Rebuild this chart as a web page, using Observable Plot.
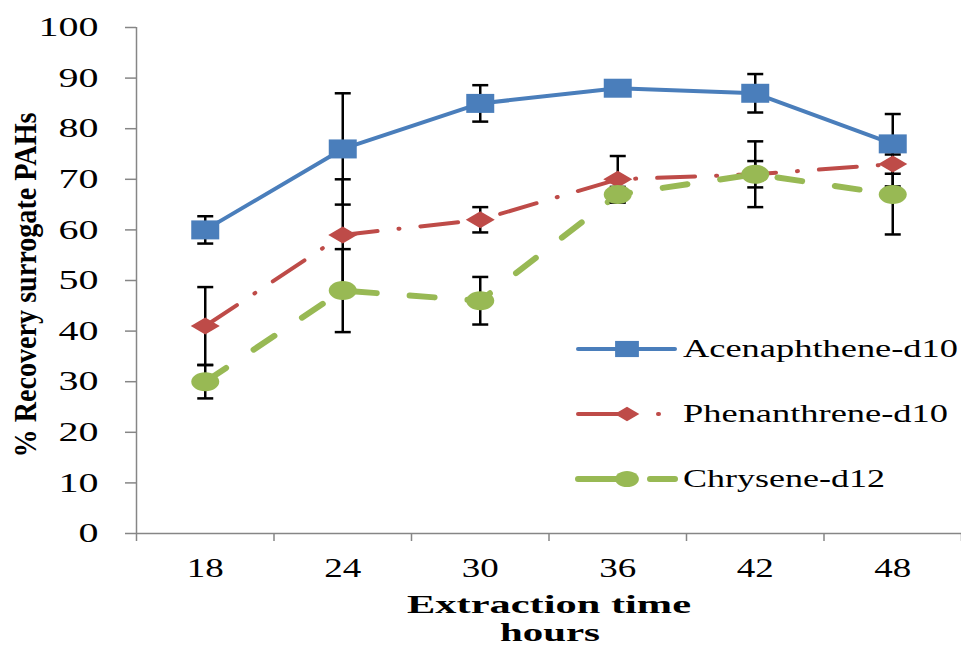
<!DOCTYPE html>
<html><head><meta charset="utf-8">
<script src="https://cdn.jsdelivr.net/npm/d3@7"></script>
<script src="https://cdn.jsdelivr.net/npm/@observablehq/plot@0.6"></script>
<style>
body{margin:0;background:#fff}
</style>
</head><body><div id="chart"></div>
<script>
// ---- data ----
const hours = [18, 24, 30, 36, 42, 48];
const acenaphthene    = [60, 76, 85, 88, 87, 77];
const acenaphtheneErr = [2.7, 11, 3.6, 1, 3.8, 5.9];
const phenanthrene    = [41, 59, 62, 70, 71, 73];
const phenanthreneErr = [7.7, 11, 2.5, 4.6, 6.5, 4.4];
const chrysene        = [30, 48, 46, 67, 71, 67];
const chryseneErr     = [3.3, 8.2, 4.7, 1.5, 2.6, 7.9];
const seriesNames = ["Acenaphthene-d10", "Phenanthrene-d10", "Chrysene-d12"];
const yTicks = [0, 10, 20, 30, 40, 50, 60, 70, 80, 90, 100];
const xBoundaries = [15, 21, 27, 33, 39, 45, 51];
const xTitle = "Extraction time";
const xTitle2 = "hours";
const yTitle = "% Recovery surrogate PAHs";

// ---- styling ----
const seriesValues = [acenaphthene, phenanthrene, chrysene];
const seriesErrors = [acenaphtheneErr, phenanthreneErr, chryseneErr];
const colors = ["#4a7ebb", "#be4b48", "#98b954"];
const dashes = [null, "38,21,1,21", "25,33"];
const widths = [4, 4, 6];
const gray = "#868686";

const sqSym = {draw(c){c.moveTo(-14,-9.5);c.lineTo(14,-9.5);c.lineTo(14,9.5);c.lineTo(-14,9.5);c.closePath();}};
const diaSym = {draw(c){c.moveTo(-14.5,0);c.lineTo(0,-8.5);c.lineTo(14.5,0);c.lineTo(0,8.5);c.closePath();}};
const ellSym = {draw(c){const a=14,b=9.5,k=0.5523;c.moveTo(a,0);c.bezierCurveTo(a,b*k,a*k,b,0,b);c.bezierCurveTo(-a*k,b,-a,b*k,-a,0);c.bezierCurveTo(-a,-b*k,-a*k,-b,0,-b);c.bezierCurveTo(a*k,-b,a,-b*k,a,0);c.closePath();}};
const capSym = {draw(c){c.moveTo(-8,0);c.lineTo(8,0);}};
const syms = [sqSym, diaSym, ellSym];

const rows = seriesNames.flatMap((s, i) => hours.map((h, j) => ({
  series: s, i, hours: h, value: seriesValues[i][j], err: seriesErrors[i][j]
})));

const marks = [
  Plot.ruleY([0], {stroke: gray, strokeWidth: 1.5}),
  Plot.ruleX([15], {stroke: gray, strokeWidth: 1.5}),
  Plot.axisY(yTicks, {tickSize: 11, tickPadding: 27, stroke: gray, strokeWidth: 1.5, fill: "black",
    fontSize: 27, fontFamily: "Liberation Serif", label: null}),
  Plot.axisX(xBoundaries, {tickSize: 8, stroke: gray, strokeWidth: 1.5, tickFormat: () => "", label: null}),
  Plot.axisX(hours, {tickSize: 0, tickPadding: 24, fill: "black", fontSize: 27,
    fontFamily: "Liberation Serif", label: null, tickFormat: d => String(d)})
];
seriesNames.forEach((s, i) => {
  marks.push(Plot.line(rows.filter(d => d.i === i), {
    x: "hours", y: "value", stroke: colors[i], strokeWidth: widths[i],
    strokeDasharray: dashes[i], strokeLinecap: "round", strokeLinejoin: "round"
  }));
});
const errRows = rows.filter(d => d.err > 0);
marks.push(
  Plot.ruleX(errRows, {x: "hours", y1: d => d.value - d.err, y2: d => d.value + d.err, stroke: "black", strokeWidth: 2.5}),
  Plot.dot(errRows, {x: "hours", y: d => d.value + d.err, symbol: capSym, stroke: "black", strokeWidth: 2.5, fill: "none"}),
  Plot.dot(errRows, {x: "hours", y: d => d.value - d.err, symbol: capSym, stroke: "black", strokeWidth: 2.5, fill: "none"})
);
seriesNames.forEach((s, i) => {
  marks.push(Plot.dot(rows.filter(d => d.i === i), {
    x: "hours", y: "value", symbol: syms[i], fill: colors[i], stroke: "none"
  }));
});

const svg = Plot.plot({
  width: 961, height: 646,
  marginTop: 27, marginBottom: 113, marginLeft: 136, marginRight: 0,
  x: {type: "linear", domain: [15, 51]},
  y: {domain: [0, 100]},
  style: {background: "white", fontFamily: "Liberation Serif", overflow: "visible"},
  marks
});
document.getElementById("chart").append(svg);

const s = d3.select(svg);
// widen tick labels like the reference's stretched digits
s.selectAll('g[aria-label="y-axis tick label"] text').each(function() {
  const t = this.textContent;
  d3.select(this).attr("textLength", t.length * 20).attr("lengthAdjust", "spacingAndGlyphs");
});
s.selectAll('g[aria-label="x-axis tick label"] text').each(function() {
  const t = this.textContent;
  if (t) d3.select(this).attr("textLength", t.length * 18.5).attr("lengthAdjust", "spacingAndGlyphs");
});

// ---- titles and legend ----
s.append("text").attr("transform", "translate(36,285) rotate(-90)")
  .attr("text-anchor", "middle").attr("font-family", "Liberation Serif").attr("font-weight", "bold")
  .attr("font-size", 32).attr("textLength", 345).attr("lengthAdjust", "spacingAndGlyphs").text(yTitle);
s.append("text").attr("x", 549).attr("y", 613).attr("text-anchor", "middle")
  .attr("font-family", "Liberation Serif").attr("font-weight", "bold").attr("font-size", 25)
  .attr("textLength", 284).attr("lengthAdjust", "spacingAndGlyphs").text(xTitle);
s.append("text").attr("x", 550).attr("y", 641).attr("text-anchor", "middle")
  .attr("font-family", "Liberation Serif").attr("font-weight", "bold").attr("font-size", 25)
  .attr("textLength", 100).attr("lengthAdjust", "spacingAndGlyphs").text(xTitle2);

const legY = [349, 414, 479];
const legDash = [null, "49,31,1,100", "47,25,25"];
const legLen = [275, 265, 202];
seriesNames.forEach((name, i) => {
  const g = s.append("g").attr("transform", `translate(0,${legY[i]})`);
  const ln = g.append("line").attr("x1", 578).attr("x2", 675).attr("y1", 0).attr("y2", 0)
    .attr("stroke", colors[i]).attr("stroke-width", widths[i]).attr("stroke-linecap", "round");
  if (legDash[i]) ln.attr("stroke-dasharray", legDash[i]);
  const p = d3.path(); syms[i].draw(p);
  g.append("path").attr("d", p.toString()).attr("transform", "translate(627,0) scale(0.85)").attr("fill", colors[i]);
  g.append("text").attr("x", 683).attr("y", 8).attr("text-anchor", "start")
    .attr("font-family", "Liberation Serif").attr("font-size", 25)
    .attr("textLength", legLen[i]).attr("lengthAdjust", "spacingAndGlyphs").text(name);
});
</script>
</body></html>
